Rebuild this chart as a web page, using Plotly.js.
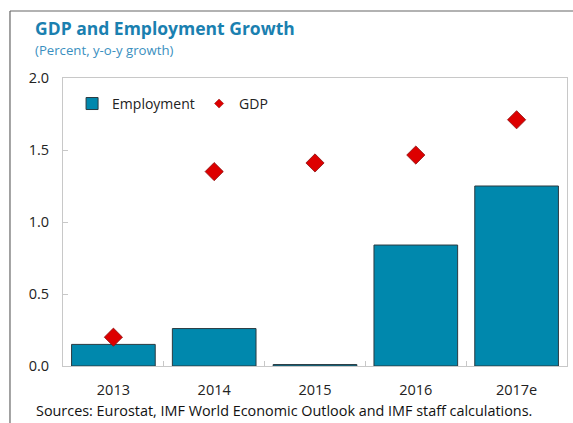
<!DOCTYPE html>
<html>
<head>
<meta charset="utf-8">
<script src="https://cdn.plot.ly/plotly-3.0.1.min.js"></script>
<style>html,body{margin:0;padding:0;background:#fff;}#chart{width:573px;height:423px;}</style>
</head>
<body>
<div id="chart"></div>
<script>
var categories = ["2013", "2014", "2015", "2016", "2017e"];
var employment = [0.15, 0.26, 0.01, 0.84, 1.25];
var gdp = [0.20, 1.35, 1.41, 1.465, 1.71];
var yTicks = [0, 0.5, 1.0, 1.5, 2.0];
var yTickLabels = ["0.0", "0.5", "1.0", "1.5", "2.0"];

var FONT = "Open Sans, sans-serif";
var BLUE = "#1a80b0";
var RED = "#dd0000";

var traces = [
  {
    type: "bar",
    name: "Employment",
    x: categories,
    y: employment,
    marker: {color: "#0088ad", line: {color: "#2a3a40", width: 1}}
  },
  {
    type: "scatter",
    mode: "markers",
    name: "GDP",
    x: categories,
    y: gdp,
    showlegend: false,
    marker: {symbol: "diamond", size: 14, color: RED, line: {color: "#8a1010", width: 0.8}}
  },
  {
    type: "scatter",
    mode: "markers",
    name: "GDP",
    x: [null],
    y: [null],
    showlegend: true,
    hoverinfo: "skip",
    marker: {symbol: "diamond", size: 7, color: RED, line: {color: "#8a1010", width: 0.5}}
  }
];

var layout = {
  width: 573,
  height: 423,
  margin: {l: 63, r: 6, t: 78, b: 57},
  paper_bgcolor: "#fff",
  plot_bgcolor: "#fff",
  font: {family: FONT, size: 14, color: "#222"},
  bargap: 0.17,
  showlegend: true,
  legend: {
    orientation: "h",
    x: 0.018, y: 0.91, xanchor: "left", yanchor: "middle",
    bgcolor: "rgba(0,0,0,0)",
    font: {family: FONT, size: 14, color: "#222"},
    entrywidth: 82,
    traceorder: "normal"
  },
  xaxis: {
    type: "category",
    showline: true, linecolor: "#c8c8c8", linewidth: 1, mirror: true,
    ticks: "inside", tickson: "boundaries", ticklen: 5, tickcolor: "#c8c8c8",
    tickfont: {family: FONT, size: 14.5, color: "#222"},
    showgrid: false, zeroline: false,
    ticklabelstandoff: 11
  },
  yaxis: {
    range: [0, 2],
    tickvals: yTicks, ticktext: yTickLabels,
    showline: true, linecolor: "#c8c8c8", linewidth: 1, mirror: true,
    ticks: "inside", ticklen: 5, tickcolor: "#c8c8c8",
    tickfont: {family: FONT, size: 14.5, color: "#222"},
    showgrid: false, zeroline: false,
    ticklabelstandoff: 10
  },
  shapes: [
    {type: "line", xref: "paper", yref: "paper", x0: -0.1052, x1: -0.1052, y0: 1.2326, y1: -0.2, line: {color: "#666", width: 1.2}},
    {type: "line", xref: "paper", yref: "paper", x0: -0.1052, x1: 1.02, y0: 1.2326, y1: 1.2326, line: {color: "#666", width: 1.2}}
  ],
  annotations: [
    {text: "<b>GDP and Employment Growth</b>", xref: "paper", yref: "paper", x: -0.06, y: 1.1736, xanchor: "left", yanchor: "middle", showarrow: false, font: {family: FONT, size: 17.5, color: BLUE}},
    {text: "(Percent, y-o-y growth)", xref: "paper", yref: "paper", x: -0.06, y: 1.097, xanchor: "left", yanchor: "middle", showarrow: false, font: {family: FONT, size: 13.2, color: "#3a8fc0"}},
    {text: "Sources: Eurostat, IMF World Economic Outlook and IMF staff calculations.", xref: "paper", yref: "paper", x: -0.058, y: -0.1528, xanchor: "left", yanchor: "middle", showarrow: false, font: {family: FONT, size: 14.4, color: "#111"}}
  ]
};

Plotly.newPlot("chart", traces, layout, {displayModeBar: false, staticPlot: true});
</script>
</body>
</html>
